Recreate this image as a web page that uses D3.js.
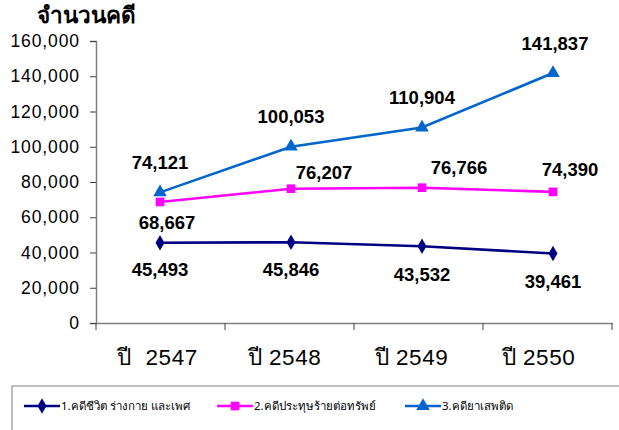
<!DOCTYPE html>
<html>
<head>
<meta charset="utf-8">
<script src="https://cdn.jsdelivr.net/npm/d3@7"></script>
<style>
  body { margin: 0; background: #fff; }
  svg { display: block; font-family: Arial, "Liberation Sans", "Noto Sans", sans-serif; }
  .lbl { font-weight: bold; font-size: 18.5px; fill: #000; }
</style>
</head>
<body>
<div id="chart"></div>
<script>
// data
var years = ["ปี  2547", "ปี 2548", "ปี 2549", "ปี 2550"];
var lifeCases = [45493, 45846, 43532, 39461];
var propertyCases = [68667, 76207, 76766, 74390];
var drugCases = [74121, 100053, 110904, 141837];
var seriesNames = ["1.คดีชีวิต ร่างกาย และเพศ", "2.คดีประทุษร้ายต่อทรัพย์", "3.คดียาเสพติด"];
var yTicks = [0, 20000, 40000, 60000, 80000, 100000, 120000, 140000, 160000];

var width = 619, height = 430;

var svg = d3.select("#chart").append("svg")
  .attr("width", width)
  .attr("height", height);

// scales
var x = d3.scaleBand().domain(years).range([96, 612]);
// markers sit a little wider than the category centers in the original
var xp = d3.scalePoint().domain(years).range([160, 553]);
var y = d3.scaleLinear().domain([0, 160000]).range([323, 41]);

// y axis
var yAxis = svg.append("g")
  .attr("transform", "translate(96,0)")
  .call(d3.axisLeft(y).tickValues(yTicks).tickSize(6).tickPadding(10)
    .tickFormat(d3.format(",")));
yAxis.select(".domain").attr("stroke", "#808080").attr("stroke-width", 1.5);
yAxis.selectAll(".tick line").attr("stroke", "#404040");
yAxis.selectAll(".tick text").attr("font-size", "17.5px")
  .attr("letter-spacing", "0.9px")
  .attr("font-family", "Arial, 'Liberation Sans', sans-serif").attr("fill", "#000");

// x axis
var xAxis = svg.append("g")
  .attr("transform", "translate(0,323)")
  .call(d3.axisBottom(x).tickSize(0).tickPadding(26));
xAxis.select(".domain").attr("stroke", "#808080").attr("stroke-width", 1.5);
xAxis.selectAll(".tick text").attr("font-size", "22.5px")
  .attr("letter-spacing", "0.6px")
  .style("white-space", "pre")
  .attr("font-family", "Arial, 'Liberation Sans', 'Noto Sans', sans-serif")
  .attr("fill", "#000").attr("dx", function(d, i) { return -3 - i * 2; });
// category separators
var seps = [96].concat(years.map(function(d) { return x(d) + x.bandwidth(); }));
svg.append("g").selectAll("line").data(seps).enter().append("line")
  .attr("x1", function(d) { return d; }).attr("x2", function(d) { return d; })
  .attr("y1", 323).attr("y2", 330)
  .attr("stroke", "#404040").attr("stroke-width", 1);

// title
svg.append("text")
  .attr("x", 37).attr("y", 23)
  .attr("font-size", "22.5px").attr("font-weight", "bold")
  .attr("font-family", "'Noto Sans', Arial, sans-serif")
  .text("จำนวนคดี");

var series = [
  { name: seriesNames[0], values: lifeCases, color: "#000080", shape: d3.symbolDiamond, size: 70,
    offsets: [[0, 27], [0, 27], [0, 28], [0, 28]] },
  { name: seriesNames[1], values: propertyCases, color: "#FF00FF", shape: d3.symbolSquare, size: 75,
    offsets: [[7, 21], [33, -16], [37, -20], [17, -22]] },
  { name: seriesNames[2], values: drugCases, color: "#0066CC", shape: d3.symbolTriangle, size: 80,
    offsets: [[0, -30], [0, -30], [0, -30], [2, -29]] }
];

var line = d3.line()
  .x(function(d, i) { return xp(years[i]); })
  .y(function(d) { return y(d); });

series.forEach(function(s) {
  var g = svg.append("g");
  g.append("path")
    .datum(s.values)
    .attr("fill", "none")
    .attr("stroke", s.color)
    .attr("stroke-width", 2.6)
    .attr("d", line);
  g.selectAll("path.pt").data(s.values).enter().append("path")
    .attr("class", "pt")
    .attr("d", d3.symbol().type(s.shape).size(s.size))
    .attr("fill", s.color)
    .attr("transform", function(d, i) { return "translate(" + xp(years[i]) + "," + y(d) + ")"; });
  g.selectAll("text").data(s.values).enter().append("text")
    .attr("class", "lbl")
    .attr("text-anchor", "middle")
    .attr("x", function(d, i) { return xp(years[i]) + s.offsets[i][0]; })
    .attr("y", function(d, i) { return y(d) + s.offsets[i][1]; })
    .attr("dy", "0.35em")
    .text(function(d) { return d3.format(",")(d); });
});

// legend
var legend = svg.append("g");
legend.append("rect")
  .attr("x", 12).attr("y", 386).attr("width", 640).attr("height", 60)
  .attr("fill", "none").attr("stroke", "#808080").attr("stroke-width", 1);
var legX = [24, 217, 405];
series.forEach(function(s, i) {
  var lg = legend.append("g").attr("transform", "translate(" + legX[i] + ",406)");
  lg.append("line").attr("x1", 0).attr("x2", 36).attr("y1", 0).attr("y2", 0)
    .attr("stroke", s.color).attr("stroke-width", 2.6);
  lg.append("path").attr("d", d3.symbol().type(s.shape).size(s.size))
    .attr("transform", "translate(18,0)").attr("fill", s.color);
  lg.append("text").attr("x", 37).attr("y", 0).attr("dy", "0.35em")
    .attr("font-size", "11.5px")
    .attr("font-family", "'Noto Sans', Arial, sans-serif")
    .text(s.name);
});
</script>
</body>
</html>
